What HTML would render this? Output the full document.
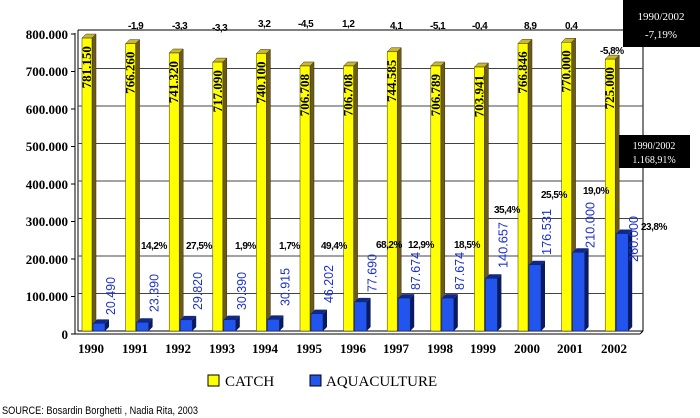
<!DOCTYPE html>
<html><head><meta charset="utf-8"><style>body{margin:0;background:#fff}svg{display:block}.sf{font-family:"Liberation Serif",serif}.ss{font-family:"Liberation Sans",sans-serif}</style></head><body>
<svg width="700" height="418" viewBox="0 0 700 418" xmlns="http://www.w3.org/2000/svg" class="sf">
<rect width="700" height="418" fill="#fff"/>
<g stroke="#000" stroke-width="1">
<line x1="78" y1="30" x2="643" y2="30"/>
<line x1="643" y1="30" x2="643" y2="331"/>
<line x1="75" y1="33" x2="75" y2="334"/>
<line x1="78" y1="30" x2="78" y2="331"/>
<line x1="75" y1="334" x2="640" y2="334"/>
<line x1="78" y1="331" x2="643" y2="331"/>
<line x1="640" y1="334" x2="643" y2="331"/>
</g>
<g stroke="#444" stroke-width="1">
<line x1="78" y1="68.5" x2="643" y2="68.5"/><line x1="78" y1="106" x2="643" y2="106"/><line x1="78" y1="143.5" x2="643" y2="143.5"/><line x1="78" y1="181" x2="643" y2="181"/><line x1="78" y1="218.5" x2="643" y2="218.5"/><line x1="78" y1="256" x2="643" y2="256"/><line x1="78" y1="293.5" x2="643" y2="293.5"/>
</g>
<g stroke="#000"><line x1="71" y1="34" x2="75" y2="34"/><line x1="71" y1="71.5" x2="75" y2="71.5"/><line x1="71" y1="109" x2="75" y2="109"/><line x1="71" y1="146.5" x2="75" y2="146.5"/><line x1="71" y1="184" x2="75" y2="184"/><line x1="71" y1="221.5" x2="75" y2="221.5"/><line x1="71" y1="259" x2="75" y2="259"/><line x1="71" y1="296.5" x2="75" y2="296.5"/><line x1="71" y1="334" x2="75" y2="334"/></g>
<g font-weight="bold" font-size="13" text-anchor="end" class="sf">
<text x="68" y="39">800.000</text><text x="68" y="76">700.000</text><text x="68" y="114">600.000</text><text x="68" y="151">500.000</text><text x="68" y="189">400.000</text><text x="68" y="226">300.000</text><text x="68" y="264">200.000</text><text x="68" y="301">100.000</text><text x="68" y="339">0</text>
</g>
<g id="bars"></g>
<g font-size="10" font-weight="bold" class="ss" letter-spacing="-0.5">
<text x="128" y="29">-1,9</text><text x="172" y="29">-3,3</text><text x="212" y="31">-3,3</text><text x="258" y="27">3,2</text><text x="298" y="27">-4,5</text><text x="342" y="27">1,2</text><text x="390" y="29">4,1</text><text x="430" y="29">-5,1</text><text x="472" y="29">-0,4</text><text x="524" y="29">8,9</text><text x="565" y="29">0,4</text><text x="600" y="54">-5,8%</text>
<text x="141" y="249">14,2%</text><text x="186" y="249">27,5%</text><text x="235" y="249">1,9%</text><text x="279" y="249">1,7%</text><text x="321" y="249">49,4%</text><text x="376" y="248">68,2%</text><text x="408" y="248">12,9%</text><text x="454" y="248">18,5%</text><text x="494" y="213">35,4%</text><text x="541" y="198">25,5%</text><text x="583" y="194">19,0%</text><text x="641" y="230">23,8%</text>
</g>
<g font-weight="bold" font-size="13" text-anchor="middle" class="sf">
<text x="91" y="353">1990</text><text x="135" y="353">1991</text><text x="178" y="353">1992</text><text x="222" y="353">1993</text><text x="265" y="353">1994</text><text x="309" y="353">1995</text><text x="353" y="353">1996</text><text x="396" y="353">1997</text><text x="440" y="353">1998</text><text x="483" y="353">1999</text><text x="527" y="353">2000</text><text x="570" y="353">2001</text><text x="614" y="353">2002</text>
</g>
<rect x="208" y="375" width="11" height="11" fill="#ffff00" stroke="#000"/>
<text x="225" y="386" font-size="15" class="sf">CATCH</text>
<rect x="310" y="375" width="11" height="11" fill="#2255ee" stroke="#000"/>
<text x="326" y="386" font-size="15" class="sf">AQUACULTURE</text>
<text x="2" y="414" font-size="11" class="ss" textLength="196" lengthAdjust="spacingAndGlyphs">SOURCE: Bosardin  Borghetti , Nadia Rita, 2003</text>
<rect x="623" y="0" width="77" height="47" fill="#000"/>
<text x="661" y="20" fill="#fff" font-size="11" text-anchor="middle" class="sf">1990/2002</text>
<text x="661" y="38" fill="#fff" font-size="11" text-anchor="middle" class="sf">-7,19%</text>
<rect x="619" y="135" width="71" height="33" fill="#000"/>
<text x="654" y="149" fill="#fff" font-size="10" text-anchor="middle" class="sf">1990/2002</text>
<text x="654" y="163" fill="#fff" font-size="10" text-anchor="middle" class="sf">1.168,91%</text>
</svg>
<script>
const c=[781150,766260,741320,717090,740100,706708,706708,744585,706789,703941,766846,770000,725000];
const cl=["781.150","766.260","741.320","717.090","740.100","706.708","706.708","744.585","706.789","703.941","766.846","770.000","725.000"];
const a=[20490,23390,29820,30390,30915,46202,77690,87674,87674,140657,176531,210000,260000];
const al=["20.490","23.390","29.820","30.390","30.915","46.202","77.690","87.674","87.674","140.657","176.531","210.000","260.000"];
const lb=[315,312,310,310,306,303,292,290,290,268,255,248,262];
const y=v=>331-v*0.000375;let s="";
for(let i=0;i<13;i++){const x0=75+i*43.6,yx=x0+7,bx=x0+18,ty=y(c[i]),ta=y(a[i]);
s+=`<polygon points="${yx+10},${ty} ${yx+14},${ty-4} ${yx+14},${327} ${yx+10},331" fill="#6b5a1a" stroke="#3a300a" stroke-width="0.5"/>`;
s+=`<polygon points="${yx},${ty} ${yx+4},${ty-4} ${yx+14},${ty-4} ${yx+10},${ty}" fill="#c8b830" stroke="#3a300a" stroke-width="0.5"/>`;
s+=`<rect x="${yx}" y="${ty}" width="10" height="${331-ty}" fill="#ffff00" stroke="#3a300a" stroke-width="0.5"/>`;
s+=`<polygon points="${bx+12},${ta} ${bx+16},${ta-4} ${bx+16},327 ${bx+12},331" fill="#0a1a60"/>`;
s+=`<polygon points="${bx},${ta} ${bx+4},${ta-4} ${bx+16},${ta-4} ${bx+12},${ta}" fill="#102888"/>`;
s+=`<rect x="${bx}" y="${ta}" width="12" height="${331-ta}" fill="#2255ee" stroke="#0a1a60" stroke-width="0.5"/>`;
s+=`<text transform="translate(${yx+9},${ty+8}) rotate(-90)" text-anchor="end" font-size="13" font-weight="bold" class="sf">${cl[i]}</text>`;
const L=al[i].length>6?46:38;
s+=`<text transform="translate(${x0+40},${lb[i]}) rotate(-90)" font-size="13" fill="#1a2fd0" class="ss" textLength="${L}" lengthAdjust="spacingAndGlyphs">${al[i]}</text>`;}
document.getElementById("bars").innerHTML=s;
</script>
</body></html>
